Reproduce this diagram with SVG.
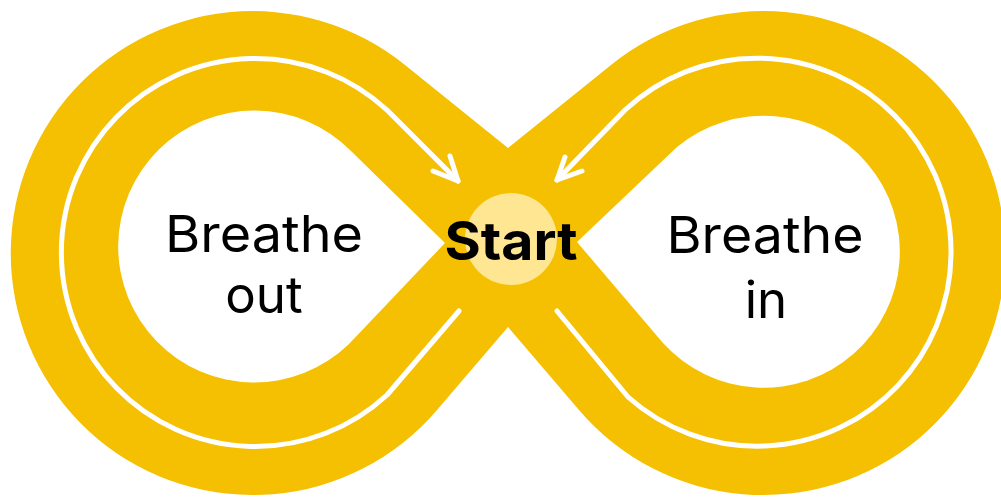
<svg xmlns="http://www.w3.org/2000/svg" width="1001" height="497" viewBox="0 0 1001 497">
  <style>
    .band { fill: #F5C002; }
    .hole { fill: #FFFFFF; }
    .track { fill: none; stroke: #FFFFFF; stroke-width: 5; stroke-linecap: round; stroke-linejoin: round; }
    .label { font-family: Inter, "Liberation Sans", sans-serif; font-size: 51px; fill: #000000; text-anchor: middle; }
    .start { font-family: Inter, "Liberation Sans", sans-serif; font-size: 53px; font-weight: 700; fill: #000000; text-anchor: middle; }
  </style>
  <rect width="1001" height="497" fill="#FFFFFF"/>
  <g id="infinity">
    <path class="band" d="M508,148 L405,65 A242,242 0 1 0 437,410 L508,327 L579,410 A242,242 0 1 0 611,65 Z"/>
    <path class="hole" d="M445,243 L351,151 A136,136 0 1 0 349,344 Z"/>
    <path class="hole" d="M577,242 L677,147 A136,136 0 1 1 663,343 Z"/>
  </g>
  <g id="connectors">
    <path class="track" d="M459,311 L387,395 A194,194 0 1 1 387,110 L458,181"/>
    <polyline class="track" points="450,156 458,181 433,171"/>
    <path class="track" d="M557,311 L628,397 A194,194 0 1 0 625,110 L557,180"/>
    <polyline class="track" points="565,157 557,180 582,171"/>
  </g>
  <g id="start">
    <circle cx="511" cy="239" r="46" fill="#FEE692"/>
    <text class="start" x="511" y="260" textLength="133" lengthAdjust="spacingAndGlyphs">Start</text>
  </g>
  <g id="breathe-out">
    <text class="label" x="264" y="252" textLength="198" lengthAdjust="spacingAndGlyphs">Breathe</text>
    <text class="label" x="264" y="313">out</text>
  </g>
  <g id="breathe-in">
    <text class="label" x="765" y="253" textLength="197" lengthAdjust="spacingAndGlyphs">Breathe</text>
    <text class="label" x="766" y="318">in</text>
  </g>
</svg>
